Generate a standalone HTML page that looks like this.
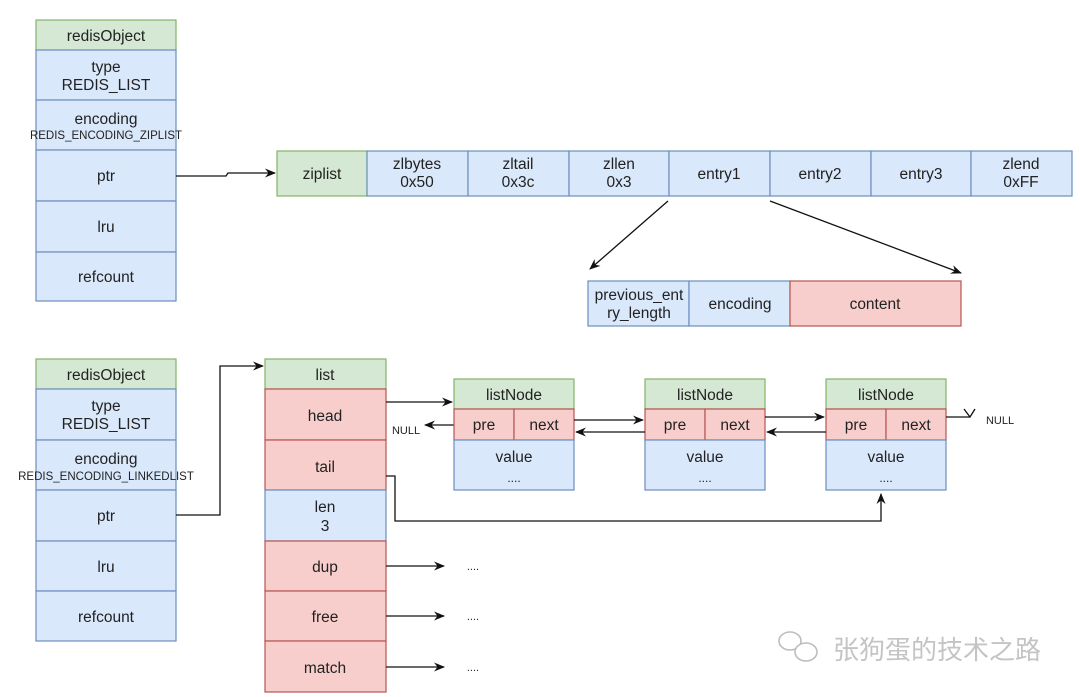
<!DOCTYPE html>
<html><head><meta charset="utf-8"><style>
html,body{margin:0;padding:0;background:#fff;}
svg{display:block;}
text{font-family:"Liberation Sans",Arial,sans-serif;fill:#222;text-anchor:middle;}
.g{fill:#d5e8d4;stroke:#82b366;stroke-width:1.2}
.b{fill:#dae8fc;stroke:#6c8ebf;stroke-width:1.2}
.r{fill:#f8cecc;stroke:#b85450;stroke-width:1.2}
.l{fill:none;stroke:#111;stroke-width:1.3}
</style></head><body>
<svg width="1080" height="697" viewBox="0 0 1080 697" xmlns="http://www.w3.org/2000/svg">
<defs><marker id="a" markerWidth="12" markerHeight="12" refX="10" refY="6" orient="auto" markerUnits="userSpaceOnUse"><path d="M0,1.5 L11,6 L0,10.5 L3.5,6 z" fill="#111"/></marker></defs>

<!-- top redisObject -->
<rect class="g" x="36" y="20" width="140" height="30"/>
<rect class="b" x="36" y="50" width="140" height="50"/>
<rect class="b" x="36" y="100" width="140" height="50"/>
<rect class="b" x="36" y="150" width="140" height="51"/>
<rect class="b" x="36" y="201" width="140" height="51"/>
<rect class="b" x="36" y="252" width="140" height="49"/>
<g font-size="15.5">
<text x="106" y="41">redisObject</text>
<text x="106" y="72">type</text><text x="106" y="90">REDIS_LIST</text>
<text x="106" y="124">encoding</text>
<text x="106" y="139" font-size="11.5">REDIS_ENCODING_ZIPLIST</text>
<text x="106" y="181">ptr</text>
<text x="106" y="232">lru</text>
<text x="106" y="282">refcount</text>
</g>
<path class="l" d="M176,176 L226,176 L228,173 L275,173" marker-end="url(#a)"/>

<!-- ziplist row -->
<rect class="g" x="277" y="151" width="90" height="45"/>
<rect class="b" x="367" y="151" width="101" height="45"/>
<rect class="b" x="468" y="151" width="101" height="45"/>
<rect class="b" x="569" y="151" width="100" height="45"/>
<rect class="b" x="669" y="151" width="101" height="45"/>
<rect class="b" x="770" y="151" width="101" height="45"/>
<rect class="b" x="871" y="151" width="100" height="45"/>
<rect class="b" x="971" y="151" width="101" height="45"/>
<g font-size="15.5">
<text x="322" y="179">ziplist</text>
<text x="417" y="169">zlbytes</text><text x="417" y="187">0x50</text>
<text x="518" y="169">zltail</text><text x="518" y="187">0x3c</text>
<text x="619" y="169">zllen</text><text x="619" y="187">0x3</text>
<text x="719" y="179">entry1</text>
<text x="820" y="179">entry2</text>
<text x="921" y="179">entry3</text>
<text x="1021" y="169">zlend</text><text x="1021" y="187">0xFF</text>
</g>
<path class="l" d="M668,201 L590,269" marker-end="url(#a)"/>
<path class="l" d="M770,201 L961,273" marker-end="url(#a)"/>
<rect class="b" x="588" y="281" width="101" height="45"/>
<rect class="b" x="689" y="281" width="101" height="45"/>
<rect class="r" x="790" y="281" width="171" height="45"/>
<g font-size="15.5">
<text x="639" y="300">previous_ent</text><text x="639" y="318">ry_length</text>
<text x="740" y="309">encoding</text>
<text x="875" y="309">content</text>
</g>

<!-- bottom redisObject -->
<rect class="g" x="36" y="359" width="140" height="30"/>
<rect class="b" x="36" y="389" width="140" height="51"/>
<rect class="b" x="36" y="440" width="140" height="50"/>
<rect class="b" x="36" y="490" width="140" height="51"/>
<rect class="b" x="36" y="541" width="140" height="50"/>
<rect class="b" x="36" y="591" width="140" height="50"/>
<g font-size="15.5">
<text x="106" y="380">redisObject</text>
<text x="106" y="411">type</text><text x="106" y="429">REDIS_LIST</text>
<text x="106" y="464">encoding</text>
<text x="106" y="480" font-size="11.5">REDIS_ENCODING_LINKEDLIST</text>
<text x="106" y="521">ptr</text>
<text x="106" y="572">lru</text>
<text x="106" y="622">refcount</text>
</g>
<path class="l" d="M176,515 L220,515 L220,366 L263,366" marker-end="url(#a)"/>

<!-- list -->
<rect class="g" x="265" y="359" width="121" height="30"/>
<rect class="r" x="265" y="389" width="121" height="51"/>
<rect class="r" x="265" y="440" width="121" height="50"/>
<rect class="b" x="265" y="490" width="121" height="51"/>
<rect class="r" x="265" y="541" width="121" height="50"/>
<rect class="r" x="265" y="591" width="121" height="50"/>
<rect class="r" x="265" y="641" width="121" height="51"/>
<g font-size="15.5">
<text x="325" y="380">list</text>
<text x="325" y="421">head</text>
<text x="325" y="472">tail</text>
<text x="325" y="512">len</text><text x="325" y="531">3</text>
<text x="325" y="572">dup</text>
<text x="325" y="622">free</text>
<text x="325" y="673">match</text>
</g>
<path class="l" d="M386,402 L452,402" marker-end="url(#a)"/>
<text x="406" y="434" font-size="11">NULL</text>
<path class="l" d="M454,425 L425,425" marker-end="url(#a)"/>
<path class="l" d="M386,476 L395,476 L395,521 L881,521 L881,494" marker-end="url(#a)"/>
<path class="l" d="M386,566 L444,566" marker-end="url(#a)"/>
<path class="l" d="M386,616 L444,616" marker-end="url(#a)"/>
<path class="l" d="M386,667 L444,667" marker-end="url(#a)"/>
<g font-size="11"><text x="473" y="570">....</text><text x="473" y="620">....</text><text x="473" y="671">....</text></g>

<!-- listNodes -->
<g font-size="15.5">
<rect class="g" x="454" y="379" width="120" height="30"/>
<rect class="r" x="454" y="409" width="60" height="31"/><rect class="r" x="514" y="409" width="60" height="31"/>
<rect class="b" x="454" y="440" width="120" height="50"/>
<text x="514" y="400">listNode</text><text x="484" y="430">pre</text><text x="544" y="430">next</text>
<text x="514" y="462">value</text><text x="514" y="482" font-size="12">....</text>

<rect class="g" x="645" y="379" width="120" height="30"/>
<rect class="r" x="645" y="409" width="60" height="31"/><rect class="r" x="705" y="409" width="60" height="31"/>
<rect class="b" x="645" y="440" width="120" height="50"/>
<text x="705" y="400">listNode</text><text x="675" y="430">pre</text><text x="735" y="430">next</text>
<text x="705" y="462">value</text><text x="705" y="482" font-size="12">....</text>

<rect class="g" x="826" y="379" width="120" height="30"/>
<rect class="r" x="826" y="409" width="60" height="31"/><rect class="r" x="886" y="409" width="60" height="31"/>
<rect class="b" x="826" y="440" width="120" height="50"/>
<text x="886" y="400">listNode</text><text x="856" y="430">pre</text><text x="916" y="430">next</text>
<text x="886" y="462">value</text><text x="886" y="482" font-size="12">....</text>
</g>
<path class="l" d="M574,420 L643,420" marker-end="url(#a)"/>
<path class="l" d="M645,432 L576,432" marker-end="url(#a)"/>
<path class="l" d="M765,417 L824,417" marker-end="url(#a)"/>
<path class="l" d="M826,432 L767,432" marker-end="url(#a)"/>
<path class="l" d="M946,417 L970,417"/>
<path d="M964,409 L970,417 L975,409" class="l"/>
<text x="1000" y="424" font-size="11">NULL</text>

<!-- watermark -->
<g fill="none" stroke="#bdbdbd" stroke-width="1.6">
<ellipse cx="790" cy="641" rx="11" ry="9"/><ellipse cx="806" cy="652" rx="11" ry="9" fill="#fff"/>
</g>
<text x="937" y="659" font-size="26" style="fill:#c4c4c4;font-family:'Liberation Sans','Noto Sans CJK SC',sans-serif">张狗蛋的技术之路</text>
</svg>
</body></html>
